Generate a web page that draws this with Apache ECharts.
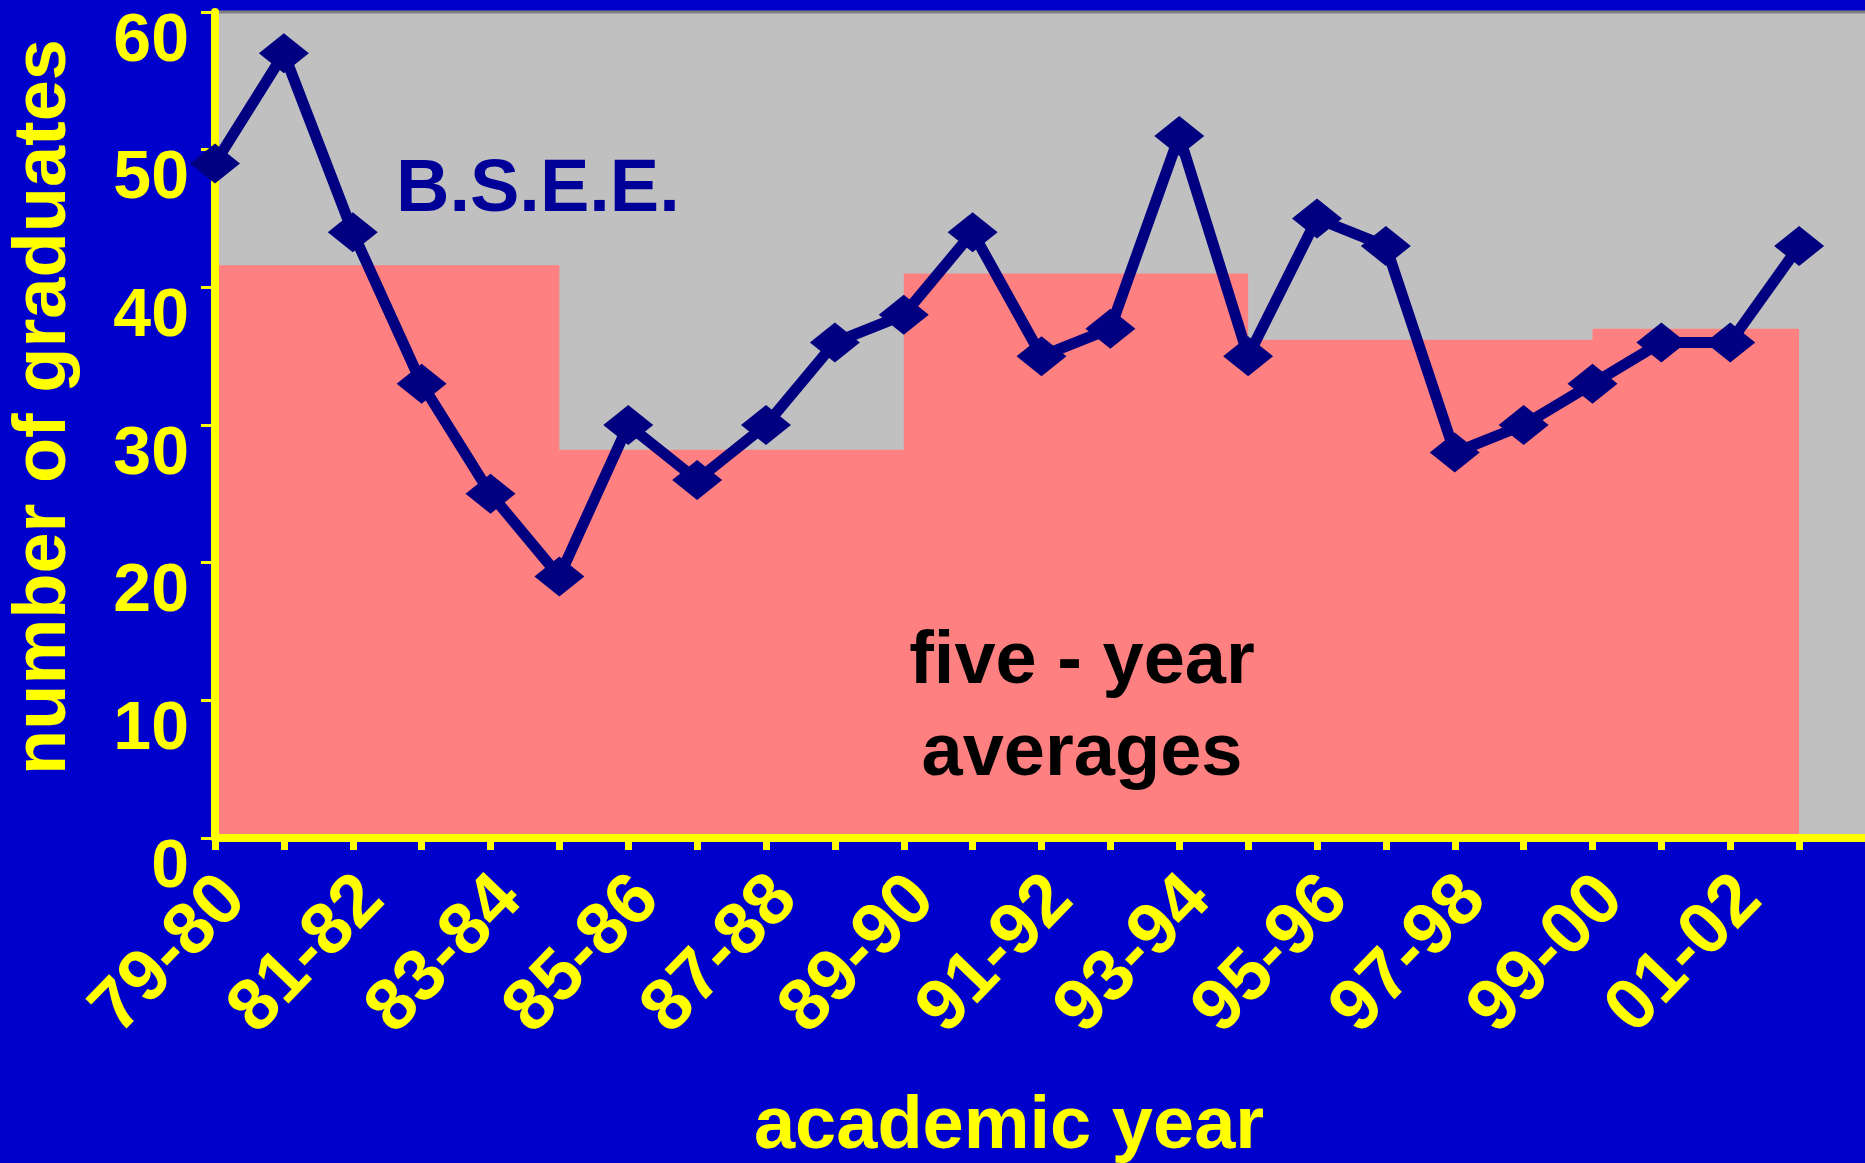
<!DOCTYPE html>
<html>
<head>
<meta charset="utf-8">
<script src="https://cdn.jsdelivr.net/npm/echarts@6/dist/echarts.min.js"></script>
<style>
html,body{margin:0;padding:0;background:#0000CC;}
#c{width:1865px;height:1163px;}
</style>
</head>
<body>
<div id="c"></div>
<script>
// Academic years (category axis; last one has no data, only extends the axis)
const categories = ['79-80','80-81','81-82','82-83','83-84','84-85','85-86','86-87','87-88','88-89',
  '89-90','90-91','91-92','92-93','93-94','94-95','95-96','96-97','97-98','98-99',
  '99-00','00-01','01-02','02-03','03-04'];
// B.S.E.E. graduates per academic year
const graduates = [49,57,44,33,25,19,30,26,30,36,38,44,35,37,51,35,45,43,28,30,33,36,36,43];
// Five-year averages, one value per year (step area)
const fiveYearAverages = [41.6,41.6,41.6,41.6,41.6,28.2,28.2,28.2,28.2,28.2,
  41,41,41,41,41,36.2,36.2,36.2,36.2,36.2,37,37,37,37];
// Y axis ticks
const yMin = 0, yMax = 60, yStep = 10;

const FONT = "'Liberation Sans', Arial, sans-serif";
const YELLOW = '#FFFF00';

const chart = echarts.init(document.getElementById('c'), null, {renderer: 'canvas'});
chart.setOption({
  backgroundColor: '#0000CC',
  animation: false,
  grid: {
    left: 215, right: -3, top: 12, bottom: 325,
    outerBoundsMode: 'none',
    containLabel: false,
    show: true, backgroundColor: '#C0C0C0', borderColor: '#808080', borderWidth: 3
  },
  xAxis: {
    type: 'category',
    data: categories,
    boundaryGap: false,
    z: 10,
    axisLine: {show: true, onZero: false, lineStyle: {color: YELLOW, width: 8}},
    axisTick: {show: true, interval: 0, length: 12, lineStyle: {color: YELLOW, width: 7}},
    axisLabel: {
      interval: function (i) { return i % 2 === 0 && i < 24; },
      rotate: 46,
      margin: 31,
      verticalAlign: 'top',
      lineHeight: 54,
      color: YELLOW,
      fontFamily: FONT,
      fontWeight: 'bold',
      fontSize: 73
    },
    splitLine: {show: false}
  },
  yAxis: {
    type: 'value',
    min: yMin, max: yMax, interval: yStep,
    z: 10,
    axisLine: {show: true, lineStyle: {color: YELLOW, width: 8}},
    axisTick: {show: true, length: 14, lineStyle: {color: YELLOW, width: 3}},
    axisLabel: {
      margin: 26,
      color: YELLOW,
      fontFamily: FONT,
      fontWeight: 'bold',
      fontSize: 68,
      verticalAlign: 'top',
      lineHeight: 60
    },
    splitLine: {show: false}
  },
  series: [
    {
      name: 'five - year averages',
      type: 'line',
      step: 'end',
      data: fiveYearAverages,
      symbol: 'none',
      z: 1,
      lineStyle: {width: 0, color: '#FF8080'},
      areaStyle: {color: '#FF8080', opacity: 1},
      silent: true
    },
    {
      name: 'B.S.E.E.',
      type: 'line',
      data: graduates,
      z: 20,
      symbol: 'diamond',
      symbolSize: [50, 40],
      lineStyle: {color: '#000080', width: 11},
      itemStyle: {color: '#000080'}
    }
  ],
  graphic: [
    {
      type: 'text', x: 45, y: 407, rotation: Math.PI / 2, z: 100,
      style: {text: 'number of graduates', fill: YELLOW, font: 'bold 74px ' + FONT,
        textAlign: 'center', textVerticalAlign: 'middle'}
    },
    {
      type: 'text', x: 1009, y: 1128, z: 100,
      style: {text: 'academic year', fill: YELLOW, font: 'bold 74px ' + FONT,
        textAlign: 'center', textVerticalAlign: 'middle'}
    },
    {
      type: 'text', x: 396, y: 191, z: 100,
      style: {text: 'B.S.E.E.', fill: '#000099', font: 'bold 74px ' + FONT,
        textAlign: 'left', textVerticalAlign: 'middle'}
    },
    {
      type: 'text', x: 1082, y: 709, z: 100,
      style: {text: 'five - year\naverages', fill: '#000000', font: 'bold 74px ' + FONT,
        lineHeight: 92, textAlign: 'center', textVerticalAlign: 'middle'}
    }
  ]
});
</script>
</body>
</html>
